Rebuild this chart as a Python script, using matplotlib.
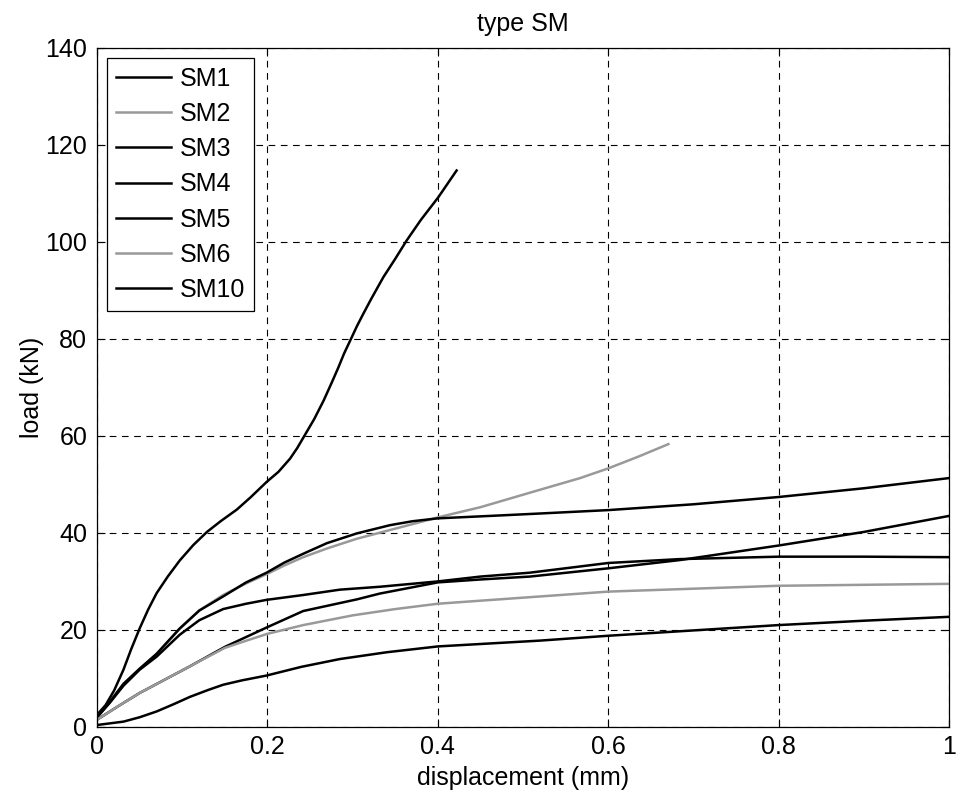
"""
Load-displacement curves for specimen type SM.
"""

import matplotlib

matplotlib.use("Agg")
import matplotlib.pyplot as plt

plt.rcParams["font.family"] = ["Liberation Sans", "DejaVu Sans"]

labels = ["SM1", "SM2", "SM3", "SM4", "SM5", "SM6", "SM10"]
colors = ["black", "0.6", "black", "black", "black", "0.6", "black"]

# steep one, stops at ~0.42 mm
sm1_x = [0, 0.01, 0.02, 0.031, 0.04, 0.05, 0.06, 0.07, 0.083, 0.097, 0.113,
         0.129, 0.145, 0.164, 0.18, 0.199, 0.213, 0.2265, 0.235, 0.242, 0.255,
         0.266, 0.275, 0.283, 0.29, 0.297, 0.305, 0.3126, 0.322, 0.336, 0.35,
         0.3635, 0.38, 0.4006, 0.422]
sm1_y = [2.5, 4.5, 7.5, 11.8, 16.0, 20.3, 24.2, 27.6, 31.0, 34.3, 37.5,
         40.2, 42.4, 44.8, 47.3, 50.5, 52.6, 55.3, 57.5, 59.6, 63.5,
         67.3, 70.8, 74.0, 77.0, 79.6, 82.6, 85.2, 88.3, 92.7, 96.5,
         100.3, 104.5, 109.2, 114.7]

# grey, stops at ~0.67 mm
sm2_x = [0, 0.015, 0.031, 0.05, 0.07, 0.097, 0.12, 0.148, 0.175, 0.199, 0.22,
         0.242, 0.27, 0.305, 0.344, 0.37, 0.4, 0.45, 0.52, 0.567, 0.6, 0.635,
         0.6706]
sm2_y = [2.0, 5.0, 8.7, 12.0, 15.0, 20.2, 24.0, 27.2, 29.6, 31.5, 33.3,
         35.0, 36.8, 38.8, 40.6, 41.8, 43.2, 45.3, 48.9, 51.3, 53.3, 55.7,
         58.3]

sm3_x = [0, 0.015, 0.031, 0.05, 0.07, 0.097, 0.12, 0.148, 0.175, 0.199, 0.22,
         0.242, 0.27, 0.305, 0.344, 0.37, 0.4, 0.473, 0.52, 0.6, 0.7, 0.8,
         0.9, 1.0]
sm3_y = [2.0, 5.2, 8.9, 12.0, 15.1, 20.3, 24.0, 26.9, 29.8, 31.8, 33.9,
         35.7, 37.9, 39.9, 41.6, 42.4, 43.0, 43.6, 44.0, 44.7, 45.9, 47.4,
         49.2, 51.3]

sm4_x = [0, 0.015, 0.031, 0.05, 0.07, 0.097, 0.12, 0.148, 0.175, 0.199, 0.242,
         0.285, 0.332, 0.4, 0.45, 0.508, 0.6, 0.684, 0.8, 0.9, 1.0]
sm4_y = [2.0, 5.0, 8.5, 11.8, 14.5, 19.0, 22.0, 24.3, 25.4, 26.2, 27.2,
         28.3, 28.9, 30.0, 31.0, 31.8, 33.8, 34.6, 35.1, 35.1, 35.0]

sm5_x = [0, 0.025, 0.05, 0.08, 0.109, 0.15, 0.199, 0.242, 0.305, 0.332, 0.4,
         0.45, 0.508, 0.6, 0.684, 0.8, 0.9, 1.0]
sm5_y = [1.5, 4.3, 7.0, 9.8, 12.5, 16.5, 20.5, 23.9, 26.3, 27.5, 29.8,
         30.4, 31.0, 32.7, 34.4, 37.4, 40.2, 43.5]

# grey
sm6_x = [0, 0.025, 0.05, 0.08, 0.109, 0.15, 0.172, 0.2, 0.242, 0.3, 0.35,
         0.4, 0.52, 0.6, 0.7, 0.8, 0.9, 1.0]
sm6_y = [1.5, 4.3, 7.0, 9.8, 12.5, 16.3, 17.6, 19.2, 21.0, 23.0, 24.3,
         25.4, 26.9, 27.9, 28.5, 29.1, 29.3, 29.5]

sm10_x = [0, 0.031, 0.05, 0.07, 0.09, 0.109, 0.13, 0.148, 0.17, 0.199, 0.24,
          0.285, 0.34, 0.4, 0.52, 0.6, 0.7, 0.8, 0.9, 1.0]
sm10_y = [0.4, 1.1, 2.0, 3.2, 4.7, 6.2, 7.6, 8.7, 9.6, 10.6, 12.4,
          14.0, 15.4, 16.6, 17.8, 18.8, 19.9, 21.0, 21.9, 22.7]

xs = [sm1_x, sm2_x, sm3_x, sm4_x, sm5_x, sm6_x, sm10_x]
ys = [sm1_y, sm2_y, sm3_y, sm4_y, sm5_y, sm6_y, sm10_y]

fig = plt.figure(figsize=(9.57, 8), dpi=100)
ax = fig.add_axes([0.1014, 0.0913, 0.8903, 0.849])

for x, y, lab, c in zip(xs, ys, labels, colors):
    ax.plot(x, y, color=c, lw=1.8, label=lab)

ax.set_xlim(0, 1)
ax.set_ylim(0, 140)
ax.set_xticks([0, 0.2, 0.4, 0.6, 0.8, 1])
ax.set_xticklabels(["0", "0.2", "0.4", "0.6", "0.8", "1"])
ax.set_yticks(range(0, 141, 20))
ax.grid(True, color="black", linestyle=(0, (6, 5)), linewidth=0.8)
ax.tick_params(direction="in", top=True, right=True, length=6,
               labelsize=18, width=0.8)
ax.tick_params(axis="x", pad=6)
ax.tick_params(axis="y", pad=7)
for s in ax.spines.values():
    s.set_linewidth(0.9)

ax.set_xlabel("displacement (mm)", fontsize=18, labelpad=5)
ax.set_ylabel("load (kN)", fontsize=18, labelpad=1)
ax.set_title("type SM", fontsize=18, pad=12)

leg = ax.legend(loc="upper left", fontsize=18, handlelength=2.2,
                fancybox=False, framealpha=1, edgecolor="black",
                borderaxespad=0.4, labelspacing=0.45, handletextpad=0.35,
                borderpad=0.35)
leg.get_frame().set_linewidth(0.9)

plt.savefig("out.png", dpi=100)
plt.close()
